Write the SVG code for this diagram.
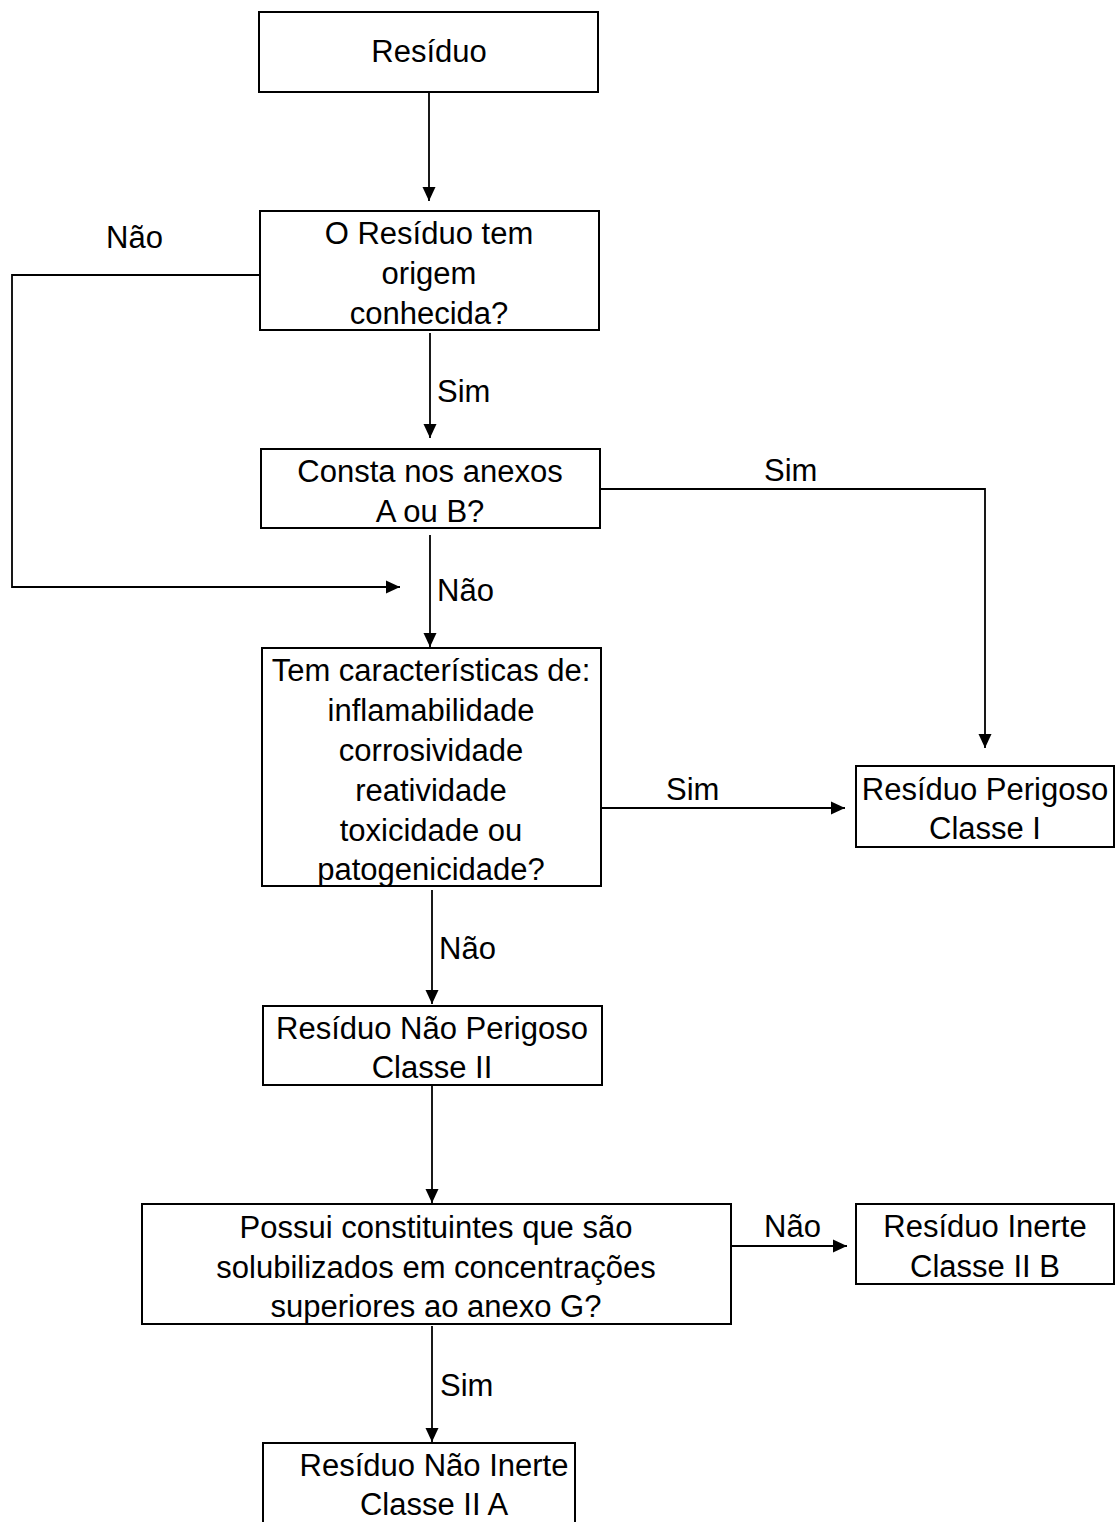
<svg xmlns="http://www.w3.org/2000/svg" width="1116" height="1522" viewBox="0 0 1116 1522">
<defs>
<marker id="arr" markerUnits="userSpaceOnUse" markerWidth="15" markerHeight="15" refX="14" refY="7.5" orient="auto">
<path d="M0,1 L14,7.5 L0,14 z" fill="#000"/>
</marker>
<style>
.box{fill:#fff;stroke:#000;stroke-width:2}
.t{font-family:"Liberation Sans",Arial,sans-serif;font-size:31px;fill:#000;text-anchor:middle}
.l{font-family:"Liberation Sans",Arial,sans-serif;font-size:31px;fill:#000}
.c{fill:none;stroke:#000;stroke-width:1.8}
</style>
</defs>
<rect width="1116" height="1522" fill="#fff"/>
<g id="connectors">
<path class="c" d="M429,92 V201" marker-end="url(#arr)"/>
<path class="c" d="M260,275 H12 V587 H400" marker-end="url(#arr)"/>
<path class="c" d="M430,333 V438" marker-end="url(#arr)"/>
<path class="c" d="M600,489 H985 V748" marker-end="url(#arr)"/>
<path class="c" d="M430,535 V647" marker-end="url(#arr)"/>
<path class="c" d="M601,808 H845" marker-end="url(#arr)"/>
<path class="c" d="M432,890 V1004" marker-end="url(#arr)"/>
<path class="c" d="M432,1086 V1203" marker-end="url(#arr)"/>
<path class="c" d="M731,1246 H847" marker-end="url(#arr)"/>
<path class="c" d="M432,1326 V1442" marker-end="url(#arr)"/>
<text class="l" x="106" y="248">Não</text>
<text class="l" x="437" y="402">Sim</text>
<text class="l" x="764" y="481">Sim</text>
<text class="l" x="437" y="601">Não</text>
<text class="l" x="666" y="800">Sim</text>
<text class="l" x="439" y="959">Não</text>
<text class="l" x="764" y="1237">Não</text>
<text class="l" x="440" y="1396">Sim</text>
</g>
<g id="n1"><rect class="box" x="259" y="12" width="339" height="80"/><text class="t" x="429" y="62">Resíduo</text></g>
<g id="n2"><rect class="box" x="260" y="211" width="339" height="119"/>
<text class="t" x="429" y="244">O Resíduo tem</text><text class="t" x="429" y="284">origem</text><text class="t" x="429" y="324">conhecida?</text></g>
<g id="n3"><rect class="box" x="261" y="449" width="339" height="79"/>
<text class="t" x="430" y="482">Consta nos anexos</text><text class="t" x="430" y="522">A ou B?</text></g>
<g id="n4"><rect class="box" x="262" y="648" width="339" height="238"/>
<text class="t" x="431" y="681">Tem características de:</text>
<text class="t" x="431" y="721">inflamabilidade</text>
<text class="t" x="431" y="761">corrosividade</text>
<text class="t" x="431" y="801">reatividade</text>
<text class="t" x="431" y="841">toxicidade ou</text>
<text class="t" x="431" y="880">patogenicidade?</text></g>
<g id="n5"><rect class="box" x="856" y="766" width="258" height="81"/>
<text class="t" x="985" y="800">Resíduo Perigoso</text><text class="t" x="985" y="839">Classe I</text></g>
<g id="n6"><rect class="box" x="263" y="1006" width="339" height="79"/>
<text class="t" x="432" y="1039">Resíduo Não Perigoso</text><text class="t" x="432" y="1078">Classe II</text></g>
<g id="n7"><rect class="box" x="142" y="1204" width="589" height="120"/>
<text class="t" x="436" y="1238">Possui constituintes que são</text>
<text class="t" x="436" y="1278">solubilizados em concentrações</text>
<text class="t" x="436" y="1317">superiores ao anexo G?</text></g>
<g id="n8"><rect class="box" x="856" y="1204" width="258" height="80"/>
<text class="t" x="985" y="1237">Resíduo Inerte</text><text class="t" x="985" y="1277">Classe II B</text></g>
<g id="n9"><rect class="box" x="263" y="1443" width="312" height="82"/>
<text class="t" x="434" y="1476">Resíduo Não Inerte</text><text class="t" x="434" y="1515">Classe II A</text></g>
</svg>
